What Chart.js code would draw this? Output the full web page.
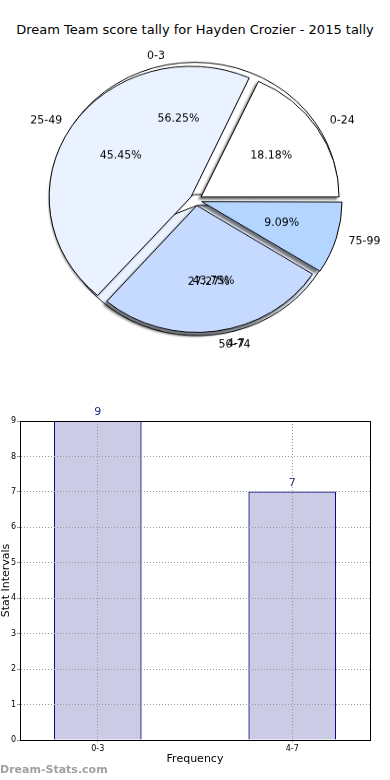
<!DOCTYPE html>
<html>
<head>
<meta charset="utf-8">
<script src="https://cdn.jsdelivr.net/npm/chart.js@4.4.0/dist/chart.umd.min.js"></script>
<style>
body { margin:0; width:390px; height:780px; background:#fff; overflow:hidden; position:relative; font-family:"DejaVu Sans", sans-serif; }
#title { position:absolute; top:22px; left:0; width:390px; text-align:center; font-size:13px; color:#000; }
#pieWrap { position:absolute; left:1px; top:20px; width:390px; height:360px; transform:scaleY(0.922); transform-origin:50% 50%; }
#pieWrap canvas { position:absolute; left:0; top:0; }
#bar { position:absolute; left:0; top:400px; }
#mark { position:absolute; left:0; top:763px; font-size:11px; font-weight:bold; color:#a0a0a0; }
</style>
</head>
<body>
<div id="title">Dream Team score tally for Hayden Crozier - 2015 tally</div>
<div id="pieWrap">
  <canvas id="pieB" width="390" height="360"></canvas>
  <canvas id="pieA" width="390" height="360"></canvas>
</div>
<canvas id="bar" width="390" height="370"></canvas>
<div id="mark">Dream-Stats.com</div>
<script>
// score ranges (big pie)
const scoreLabels = ['0-24', '25-49', '50-74', '75-99'];
const scoreValues = [2, 5, 3, 1];
const scoreColors = ['#ffffff', '#eaf1ff', '#c6d9ff', '#b3d5ff'];

// tally ranges (pie underneath + bars)
const tallyLabels = ['0-3', '4-7'];
const tallyValues = [9, 7];
const tallyColors = ['#ffffff', '#eaf1ff'];

const SY = 0.922;     // pie is drawn a bit squashed vertically
const LABEL_R = 139;  // radius used to place the pie texts

Chart.defaults.font.family = '"DejaVu Sans", sans-serif';

// matplotlib goes counter clockwise from 3 o'clock, chart.js clockwise -> reverse
function rev(a) { return a.slice().reverse(); }

function pieConfig(labels, values, colors, extraPlugins) {
    return {
        type: 'pie',
        data: {
            labels: rev(labels),
            datasets: [{
                data: rev(values),
                backgroundColor: rev(colors),
                borderColor: '#000',
                borderWidth: 1,
                offset: 24
            }]
        },
        options: {
            responsive: false,
            animation: false,
            events: [],
            rotation: 90,
            radius: 137.5,
            layout: { padding: 0 },
            plugins: { legend: { display: false }, tooltip: { enabled: false } }
        },
        plugins: extraPlugins
    };
}

function putText(ctx, txt, x, y, align) {
    ctx.save();
    ctx.translate(x, y);
    ctx.scale(1, 1 / SY);
    ctx.textAlign = align;
    ctx.textBaseline = 'middle';
    ctx.fillText(txt, 0, 0);
    ctx.restore();
}

// labels + percentages, 1.1r and 0.6r from the centre like matplotlib
function drawPieTexts(ctx, chart, labels, values) {
    const arcs = chart.getDatasetMeta(0).data;
    const total = values.reduce((a, b) => a + b, 0);
    arcs.forEach((a, i) => {
        const m = (a.startAngle + a.endAngle) / 2;
        const o = a.options.offset / 4;
        const c = Math.cos(m), s = Math.sin(m);
        const d1 = o + 1.1 * LABEL_R, d2 = o + 0.6 * LABEL_R;
        putText(ctx, labels[i], a.x + c * d1, a.y + s * d1, c > 0 ? 'left' : 'right');
        const pct = (values[i] / total * 100).toFixed(2) + '%';
        putText(ctx, pct, a.x + c * d2, a.y + s * d2, 'center');
    });
}

const chartB = new Chart(document.getElementById('pieB'),
    pieConfig(tallyLabels, tallyValues, tallyColors, []));

const shadow = {
    id: 'shadow',
    beforeDatasetsDraw(chart) {
        const ctx = chart.ctx;
        ctx.save();
        ctx.fillStyle = 'rgba(0,0,0,0.5)';
        ctx.filter = 'blur(1px)';
        chart.getDatasetMeta(0).data.forEach(a => {
            const m = (a.startAngle + a.endAngle) / 2;
            const o = a.options.offset / 4;
            const cx = a.x + Math.cos(m) * o - 3;
            const cy = a.y + Math.sin(m) * o + 3;
            ctx.beginPath();
            ctx.moveTo(cx, cy);
            ctx.arc(cx, cy, a.outerRadius + 1.5, a.startAngle, a.endAngle);
            ctx.closePath();
            ctx.fill();
        });
        ctx.restore();
    }
};

const pieTexts = {
    id: 'pieTexts',
    afterDatasetsDraw(chart) {
        const ctx = chart.ctx;
        ctx.save();
        ctx.font = '11px "DejaVu Sans", sans-serif';
        ctx.fillStyle = '#000';
        drawPieTexts(ctx, chart, rev(scoreLabels), rev(scoreValues));
        drawPieTexts(ctx, chartB, rev(tallyLabels), rev(tallyValues));
        ctx.restore();
    }
};

new Chart(document.getElementById('pieA'),
    pieConfig(scoreLabels, scoreValues, scoreColors, [shadow, pieTexts]));

// bar chart
const frame = {
    id: 'frame',
    afterDraw(chart) {
        const { ctx, chartArea: a } = chart;
        ctx.save();
        ctx.strokeStyle = '#000';
        ctx.lineWidth = 1;
        ctx.strokeRect(Math.round(a.left) + 0.5, Math.round(a.top) + 0.5,
            Math.round(a.right - a.left), Math.round(a.bottom - a.top));
        ctx.restore();
    }
};

const valueLabels = {
    id: 'valueLabels',
    afterDatasetsDraw(chart) {
        const ctx = chart.ctx;
        ctx.save();
        ctx.font = '11px "DejaVu Sans", sans-serif';
        ctx.fillStyle = '#1a2a80';
        ctx.textAlign = 'center';
        ctx.textBaseline = 'bottom';
        chart.getDatasetMeta(0).data.forEach((bar, i) => {
            ctx.fillText(String(tallyValues[i]), bar.x, bar.y - 3);
        });
        ctx.restore();
    }
};

new Chart(document.getElementById('bar'), {
    type: 'bar',
    data: {
        datasets: [{
            data: tallyValues.map((v, i) => ({ x: i, y: v })),
            backgroundColor: '#cbcbe5',
            borderColor: '#000080',
            borderWidth: 1,
            barThickness: 87
        }]
    },
    options: {
        responsive: false,
        animation: false,
        events: [],
        layout: { padding: { top: 21, right: 20, left: 0, bottom: 0 } },
        plugins: { legend: { display: false }, tooltip: { enabled: false } },
        scales: {
            x: {
                type: 'linear',
                min: -0.4,
                max: 1.4,
                offset: false,
                afterBuildTicks: s => { s.ticks = tallyLabels.map((l, i) => ({ value: i })); },
                ticks: { callback: v => tallyLabels[v], font: { size: 8 }, color: '#000', padding: 2, maxRotation: 0 },
                grid: { color: '#999', tickLength: 2, offset: false, z: 1 },
                border: { color: '#000', dash: [1, 2], z: 1 },
                title: { display: true, text: 'Frequency', font: { size: 11 }, color: '#000', padding: { top: 2, bottom: 4 } },
                afterFit: s => { s.height = 30; }
            },
            y: {
                min: 0,
                max: 9,
                ticks: { stepSize: 1, font: { size: 8 }, color: '#000', padding: 1 },
                grid: { color: '#999', tickLength: 3, z: 1 },
                border: { color: '#000', dash: [1, 2], z: 1 },
                title: { display: true, text: 'Stat Intervals', font: { size: 11 }, color: '#000', padding: 0 },
                afterFit: s => { s.width = 20; }
            }
        }
    },
    plugins: [frame, valueLabels]
});
</script>
</body>
</html>
